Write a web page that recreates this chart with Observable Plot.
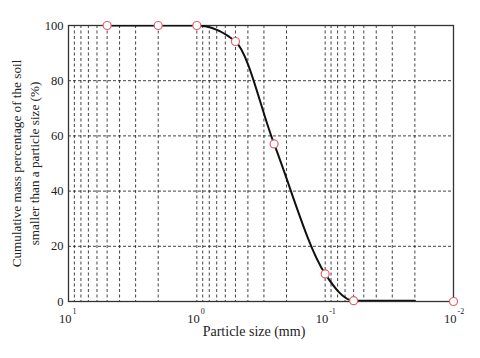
<!DOCTYPE html>
<html>
<head>
<meta charset="utf-8">
<script src="https://cdn.jsdelivr.net/npm/d3@7"></script>
<script src="https://cdn.jsdelivr.net/npm/@observablehq/plot@0.6"></script>
<style>
  html, body { margin: 0; padding: 0; background: #fff; }
  svg { display: block; }
</style>
</head>
<body>
<div id="chart"></div>
<script>
// Measured points (particle size in mm, cumulative % passing)
const sizes = [5, 2, 1, 0.5, 0.25, 0.1, 0.06, 0.01];
const percents = [100, 100, 100, 94.2, 57.1, 10, 0.3, 0];
// Fitted grading curve
const curveSizes = [5, 2, 1, 0.5, 0.25, 0.1, 0.06, 0.02];
const curvePercents = [100, 100, 100, 94.2, 57.1, 10, 0.3, 0.3];
// Axis ticks
const decadeTicks = [10, 1, 0.1, 0.01];
const decadeExponents = ["1", "0", "-1", "-2"];
const yTicks = [0, 20, 40, 60, 80, 100];
const yGrid = [20, 40, 60, 80];
const xGrid = [9, 8, 7, 6, 5, 4, 3, 2, 1,
               0.9, 0.8, 0.7, 0.6, 0.5, 0.4, 0.3, 0.2, 0.1,
               0.09, 0.08, 0.07, 0.06, 0.05, 0.04, 0.03, 0.02];

const points = sizes.map((s, i) => ({size: s, pct: percents[i]}));
const curve = curveSizes.map((s, i) => ({size: s, pct: curvePercents[i]}));
const decades = decadeTicks.map((v, i) => ({v, e: decadeExponents[i]}));

const chart = Plot.plot({
  width: 480,
  height: 358,
  marginLeft: 68,
  marginRight: 27,
  marginTop: 25,
  marginBottom: 57,
  style: {fontFamily: "'Liberation Serif', 'Times New Roman', serif", fontSize: "12px", background: "#fff", color: "#222"},
  x: {type: "log", domain: [10, 0.01], axis: null},
  y: {domain: [0, 100], axis: null},
  marks: [
    Plot.ruleX(xGrid, {stroke: "#222", strokeWidth: 1, strokeDasharray: "3,2.5", strokeOpacity: 0.85}),
    Plot.ruleY(yGrid, {stroke: "#222", strokeWidth: 1, strokeDasharray: "3,2", strokeOpacity: 0.85}),
    Plot.frame({stroke: "#333", strokeWidth: 1.3}),
    Plot.axisY(yTicks, {tickSize: 0, tickPadding: 5, label: null, fontSize: 12.5}),
    Plot.line(curve, {x: "size", y: "pct", curve: "monotone-x", stroke: "#111", strokeWidth: 2, clip: true}),
    Plot.dot(points, {x: "size", y: "pct", r: 4, stroke: "#e0606e", fill: "#fff", strokeWidth: 1.2}),
    Plot.text(decades, {x: "v", y: 0, text: () => "10", textAnchor: "end", dx: 3, dy: 17, fontSize: 12.5}),
    Plot.text(decades, {x: "v", y: 0, text: "e", textAnchor: "start", dx: 4, dy: 10, fontSize: 8}),
    Plot.text(["Particle size (mm)"], {frameAnchor: "bottom", dx: -7, dy: 34, fontSize: 14}),
    Plot.text(["Cumulative mass percentage of the soil\nsmaller than a particle size (%)"],
      {frameAnchor: "left", textAnchor: "middle", dx: -44, rotate: -90, fontSize: 13.2, lineHeight: 1.3})
  ]
});
document.getElementById("chart").appendChild(chart);
</script>
</body>
</html>
